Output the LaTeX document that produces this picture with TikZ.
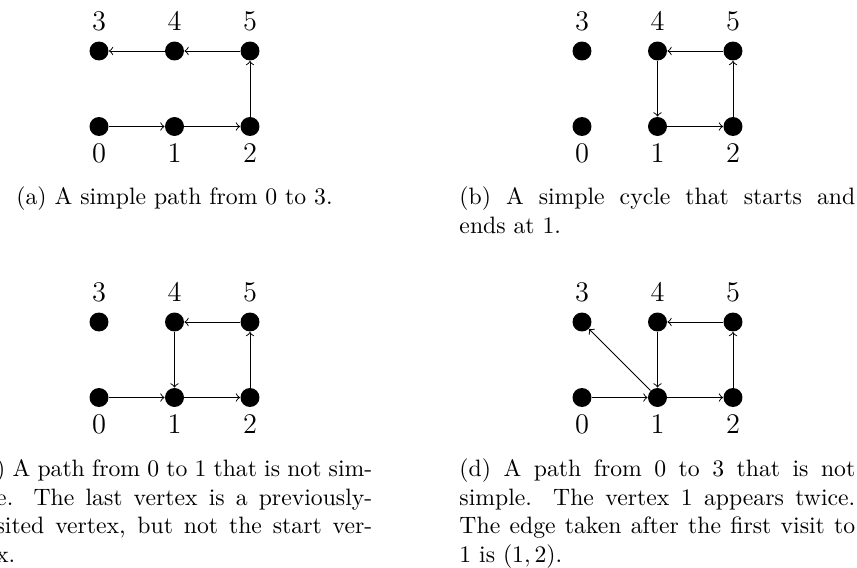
\documentclass[tikz,border=0pt]{standalone}
\newlength\capw
\setlength\capw{167pt}
\begin{document}
\begin{tikzpicture}[x=0.42194pt,y=-0.42194pt,
  vertex/.style={circle,fill=black,inner sep=0pt,minimum size=8pt},
  toplab/.style={font=\large,inner sep=0pt,label distance=4.2pt},
  botlab/.style={font=\large,inner sep=0pt,label distance=3pt},
  vt/.style={vertex,label={[toplab]above:#1}},
  vb/.style={vertex,label={[botlab]below:#1}},
  conn/.style={->,line width=0.4pt},
  capnode/.style={inner sep=0pt}]
\useasboundingbox (0,0) rectangle (857,568);
% panel (a)
\node[vb=0] (a0) at (99,126.5) {};
\node[vb=1] (a1) at (174.5,126.5) {};
\node[vb=2] (a2) at (250,126.5) {};
\node[vt=3] (a3) at (99,51) {};
\node[vt=4] (a4) at (174.5,51) {};
\node[vt=5] (a5) at (250,51) {};
\draw[conn] (a0) -- (a1);
\draw[conn] (a1) -- (a2);
\draw[conn] (a2) -- (a5);
\draw[conn] (a5) -- (a4);
\draw[conn] (a4) -- (a3);
\node[capnode,anchor=base] (capa) at (174.5,205) {(a) A simple path from 0 to 3.};
% panel (b)
\node[vb=0] (b0) at (582,126.5) {};
\node[vb=1] (b1) at (657.5,126.5) {};
\node[vb=2] (b2) at (733,126.5) {};
\node[vt=3] (b3) at (582,51) {};
\node[vt=4] (b4) at (657.5,51) {};
\node[vt=5] (b5) at (733,51) {};
\draw[conn] (b1) -- (b2);
\draw[conn] (b2) -- (b5);
\draw[conn] (b5) -- (b4);
\draw[conn] (b4) -- (b1);
\node[capnode,anchor=base west] (capb) at (459,205) {\parbox[t]{\capw}{\makebox[\capw][s]{(b) A simple cycle that starts and}\newline ends at 1.}};
% panel (c)
\node[vb=0] (c0) at (99,397.5) {};
\node[vb=1] (c1) at (174.5,397.5) {};
\node[vb=2] (c2) at (250,397.5) {};
\node[vt=3] (c3) at (99,322) {};
\node[vt=4] (c4) at (174.5,322) {};
\node[vt=5] (c5) at (250,322) {};
\draw[conn] (c0) -- (c1);
\draw[conn] (c1) -- (c2);
\draw[conn] (c2) -- (c5);
\draw[conn] (c5) -- (c4);
\draw[conn] (c4) -- (c1);
\node[capnode,anchor=base west] (capc) at (-24,477) {\parbox[t]{\capw}{\makebox[\capw][s]{(c) A path from 0 to 1 that is not sim-}\newline\makebox[\capw][s]{ple. The last vertex is a previously-}\newline\makebox[\capw][s]{visited vertex, but not the start ver-}\newline tex.}};
% panel (d)
\node[vb=0] (d0) at (582,397.5) {};
\node[vb=1] (d1) at (657.5,397.5) {};
\node[vb=2] (d2) at (733,397.5) {};
\node[vt=3] (d3) at (582,322) {};
\node[vt=4] (d4) at (657.5,322) {};
\node[vt=5] (d5) at (733,322) {};
\draw[conn] (d0) -- (d1);
\draw[conn] (d1) -- (d2);
\draw[conn] (d2) -- (d5);
\draw[conn] (d5) -- (d4);
\draw[conn] (d4) -- (d1);
\draw[conn] (d1) -- (d3);
\node[capnode,anchor=base west] (capd) at (459,477) {\parbox[t]{\capw}{\makebox[\capw][s]{(d) A path from 0 to 3 that is not}\newline\makebox[\capw][s]{simple. The vertex 1 appears twice.}\newline\makebox[\capw][s]{The edge taken after the first visit to}\newline 1 is $(1,2)$.}};
\end{tikzpicture}
\end{document}
